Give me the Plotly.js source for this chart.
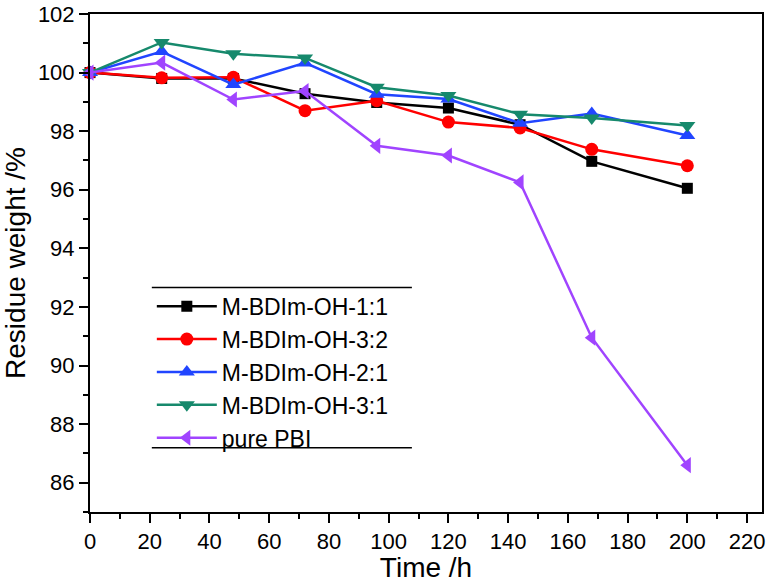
<!DOCTYPE html>
<html>
<head>
<meta charset="utf-8">
<script src="https://cdn.plot.ly/plotly-3.0.1.min.js"></script>
<style>html,body{margin:0;padding:0;background:#fff;}#chart{width:771px;height:583px;}</style>
</head>
<body>
<div id="chart"></div>
<script>
const timeH = [0, 24, 48, 72, 96, 120, 144, 168, 200];
const seriesNames = ["M-BDIm-OH-1:1", "M-BDIm-OH-3:2", "M-BDIm-OH-2:1", "M-BDIm-OH-3:1", "pure PBI"];
const ratio11 = [100, 99.8, 99.8, 99.28, 98.98, 98.79, 98.22, 96.97, 96.05];
const ratio32 = [100, 99.82, 99.84, 98.7, 99.04, 98.31, 98.11, 97.38, 96.82];
const ratio21 = [100, 100.72, 99.59, 100.33, 99.26, 99.1, 98.27, 98.6, 97.85];
const ratio31 = [100, 101.03, 100.64, 100.5, 99.5, 99.22, 98.58, 98.45, 98.19];
const purePBI = [100, 100.34, 99.08, 99.37, 97.5, 97.17, 96.25, 90.95, 86.6];

const values = [ratio11, ratio32, ratio21, ratio31, purePBI];
const colors = ["#000000", "#ff0000", "#2145ff", "#16896c", "#a044ff"];
const symbols = ["square", "circle", "triangle-up", "triangle-down", "triangle-left"];
const sizes = [11, 13, 14, 14, 14];

const font = "Arial, 'Liberation Sans', sans-serif";

const traces = values.map((v, i) => ({
  x: timeH,
  y: v,
  name: seriesNames[i],
  type: "scatter",
  mode: "lines+markers",
  cliponaxis: false,
  line: {color: colors[i], width: 2.5},
  marker: {color: colors[i], symbol: symbols[i], size: sizes[i]}
}));

const layout = {
  width: 771,
  height: 583,
  margin: {l: 90, r: 9, t: 14, b: 71},
  paper_bgcolor: "#fff",
  plot_bgcolor: "#fff",
  font: {family: font, color: "#000", size: 22},
  showlegend: true,
  legend: {
    x: 0.092, y: 0.4564, xanchor: "left", yanchor: "top",
    bgcolor: "rgba(0,0,0,0)", borderwidth: 0,
    font: {family: font, size: 23, color: "#000"},
    itemwidth: 60, tracegroupgap: 0
  },
  shapes: [
    {type: "line", xref: "paper", yref: "paper", x0: 0.092, x1: 0.479, y0: 0.451, y1: 0.451, line: {color: "#000", width: 1.5}},
    {type: "line", xref: "paper", yref: "paper", x0: 0.092, x1: 0.479, y0: 0.129, y1: 0.129, line: {color: "#000", width: 1.5}}
  ],
  xaxis: {
    range: [0, 225],
    tickmode: "linear", tick0: 0, dtick: 20,
    ticks: "outside", ticklen: 9, tickwidth: 2, tickcolor: "#000",
    minor: {dtick: 10, tick0: 0, ticks: "outside", ticklen: 5, tickwidth: 2, tickcolor: "#000"},
    showline: true, linewidth: 2, linecolor: "#000", mirror: true,
    showgrid: false, zeroline: false,
    tickfont: {family: font, size: 22},
    title: {text: "Time /h", font: {family: font, size: 28}, standoff: 6}
  },
  yaxis: {
    range: [85, 102],
    tickmode: "linear", tick0: 86, dtick: 2,
    ticks: "outside", ticklen: 9, tickwidth: 2, tickcolor: "#000",
    minor: {dtick: 1, tick0: 85, ticks: "outside", ticklen: 5, tickwidth: 2, tickcolor: "#000"},
    showline: true, linewidth: 2, linecolor: "#000", mirror: true,
    showgrid: false, zeroline: false,
    tickfont: {family: font, size: 22},
    title: {text: "Residue weight /%", font: {family: font, size: 28}, standoff: 6}
  }
};

Plotly.newPlot("chart", traces, layout, {displayModeBar: false, staticPlot: true});
</script>
</body>
</html>
